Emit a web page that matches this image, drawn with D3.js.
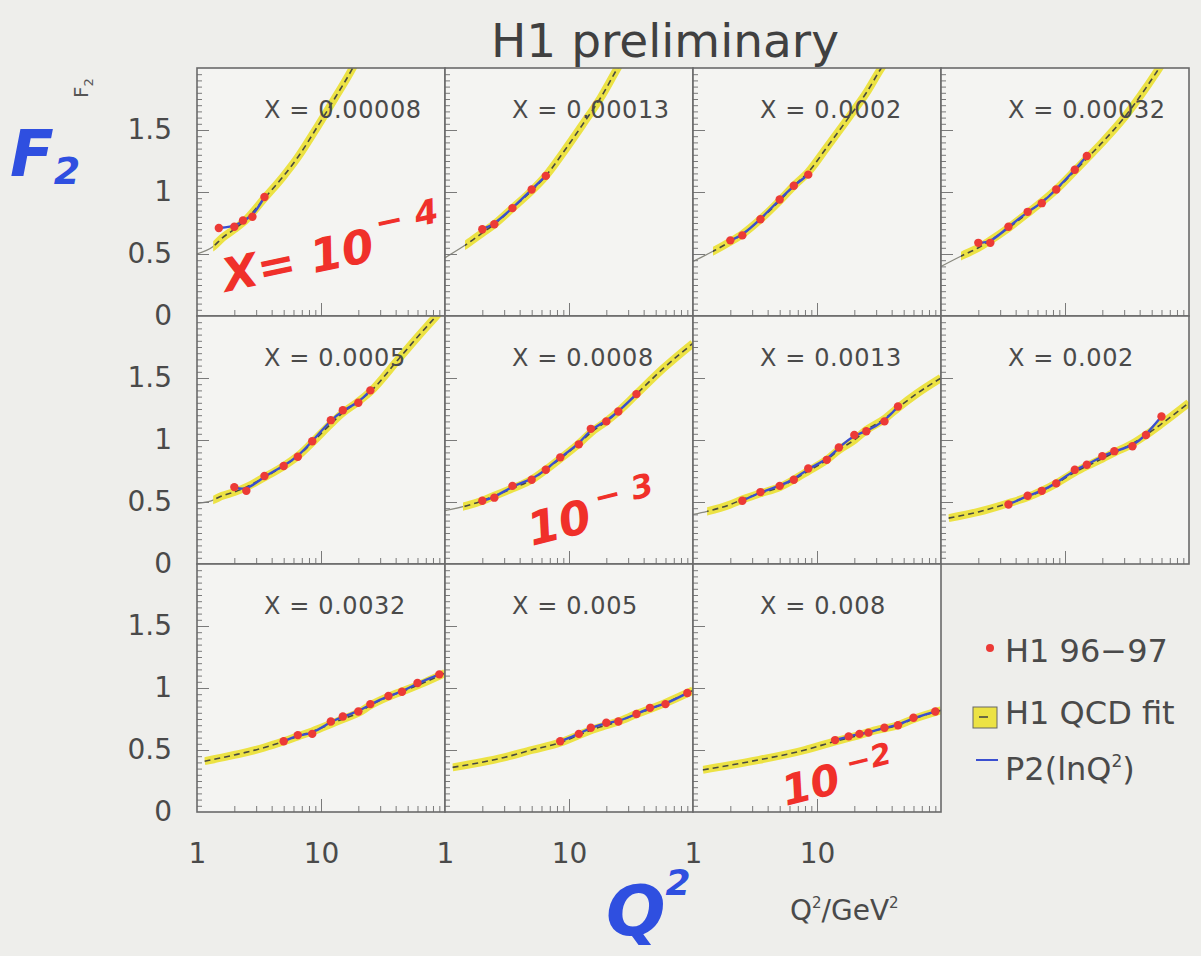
<!DOCTYPE html>
<html>
<head>
<meta charset="utf-8">
<script src="https://cdn.jsdelivr.net/npm/d3@7"></script>
<style>
  html, body { margin: 0; padding: 0; background: #eeeeeb; }
  svg { display: block; }
</style>
</head>
<body>
<svg id="chart" width="1201" height="956"></svg>
<script>
// ---- data ------------------------------------------------------------
const xBins = ["0.00008", "0.00013", "0.0002", "0.00032", "0.0005", "0.0008",
               "0.0013", "0.002", "0.0032", "0.005", "0.008"];

// H1 96-97 measurements per x bin, [Q2, F2]
const h1_00008 = [[1.5, 0.71], [2, 0.72], [2.35, 0.77], [2.8, 0.80], [3.5, 0.96]];
const h1_00013 = [[2, 0.70], [2.5, 0.74], [3.5, 0.87], [5, 1.02], [6.5, 1.13]];
const h1_0002  = [[2, 0.61], [2.5, 0.65], [3.5, 0.78], [5, 0.94], [6.5, 1.05], [8.5, 1.14]];
const h1_00032 = [[2, 0.59], [2.5, 0.59], [3.5, 0.72], [5, 0.84], [6.5, 0.91], [8.5, 1.02],
                  [12, 1.18], [15, 1.29]];
const h1_0005  = [[2, 0.62], [2.5, 0.59], [3.5, 0.71], [5, 0.79], [6.5, 0.865], [8.5, 0.99],
                  [12, 1.16], [15, 1.24], [20, 1.30], [25, 1.40]];
const h1_0008  = [[2, 0.51], [2.5, 0.535], [3.5, 0.63], [5, 0.68], [6.5, 0.76], [8.5, 0.86],
                  [12, 0.965], [15, 1.09], [20, 1.15], [25, 1.23], [35, 1.37]];
const h1_0013  = [[2.5, 0.51], [3.5, 0.58], [5, 0.63], [6.5, 0.68], [8.5, 0.77], [12, 0.84],
                  [15, 0.94], [20, 1.04], [25, 1.07], [35, 1.15], [45, 1.27]];
const h1_002   = [[3.5, 0.48], [5, 0.55], [6.5, 0.59], [8.5, 0.65], [12, 0.76], [15, 0.80],
                  [20, 0.87], [25, 0.91], [35, 0.95], [45, 1.04], [60, 1.19]];
const h1_0032  = [[5, 0.57], [6.5, 0.62], [8.5, 0.63], [12, 0.73], [15, 0.77], [20, 0.81],
                  [25, 0.87], [35, 0.935], [45, 0.97], [60, 1.04], [90, 1.11]];
const h1_005   = [[8.5, 0.57], [12, 0.63], [15, 0.68], [20, 0.72], [25, 0.73], [35, 0.79],
                  [45, 0.84], [60, 0.87], [90, 0.96]];
const h1_008   = [[14, 0.58], [18, 0.61], [22, 0.63], [26, 0.64], [35, 0.68], [45, 0.70],
                  [60, 0.76], [90, 0.81]];

// H1 QCD fit, central curve per x bin, [Q2, F2]
const qcd_00008 = [[1, 0.50], [1.35, 0.56], [1.6, 0.63], [2, 0.70], [2.5, 0.78], [3.5, 0.95],
                   [5, 1.13], [6.5, 1.28], [9.4, 1.53], [13, 1.76], [18, 2.0], [25, 2.3]];
const qcd_00013 = [[1, 0.47], [1.5, 0.58], [2, 0.67], [2.5, 0.74], [3.5, 0.87], [5, 1.01],
                   [6.5, 1.13], [9, 1.32], [13, 1.55], [18, 1.76], [24, 1.98], [30, 2.15]];
const qcd_0002  = [[1, 0.44], [1.5, 0.53], [2, 0.60], [2.5, 0.66], [3.5, 0.78], [5, 0.93],
                   [6.5, 1.05], [8.5, 1.16], [12, 1.36], [18, 1.60], [25, 1.80], [33, 2.0], [40, 2.12]];
const qcd_00032 = [[1, 0.40], [1.5, 0.49], [2, 0.55], [2.5, 0.61], [3.5, 0.71], [5, 0.83],
                   [6.5, 0.92], [8.5, 1.02], [12, 1.17], [15, 1.27], [20, 1.40], [30, 1.60],
                   [45, 1.84], [55, 1.97], [65, 2.08]];
const qcd_0005  = [[1, 0.49], [1.3, 0.51], [1.6, 0.55], [2, 0.58], [2.5, 0.62], [3.5, 0.70],
                   [5, 0.79], [6.5, 0.87], [8.5, 0.98], [12, 1.13], [15, 1.22], [20, 1.31],
                   [25, 1.39], [42, 1.65], [60, 1.83], [85, 2.0], [100, 2.08]];
const qcd_0008  = [[1, 0.43], [1.5, 0.47], [2, 0.51], [2.5, 0.55], [3.5, 0.61], [5, 0.68],
                   [6.5, 0.76], [8.5, 0.85], [12, 0.97], [15, 1.06], [20, 1.15], [25, 1.23],
                   [35, 1.37], [58, 1.58], [100, 1.78]];
const qcd_0013  = [[1, 0.40], [1.3, 0.425], [2, 0.48], [2.5, 0.52], [3.5, 0.57], [5, 0.62],
                   [6.5, 0.68], [8.5, 0.75], [12, 0.84], [15, 0.92], [20, 1.00], [25, 1.08],
                   [35, 1.17], [45, 1.26], [63, 1.37], [100, 1.50]];
const qcd_002   = [[1.15, 0.37], [2, 0.42], [3.5, 0.49], [5, 0.54], [6.5, 0.59], [8.5, 0.65],
                   [12, 0.74], [15, 0.79], [20, 0.85], [25, 0.90], [35, 0.97], [45, 1.04],
                   [60, 1.13], [100, 1.30]];
const qcd_0032  = [[1.15, 0.41], [2, 0.46], [3.5, 0.52], [5, 0.57], [6.5, 0.61], [8.5, 0.65],
                   [12, 0.71], [15, 0.75], [20, 0.80], [25, 0.86], [35, 0.93], [50, 0.99],
                   [70, 1.05], [100, 1.12]];
const qcd_005   = [[1.15, 0.36], [3, 0.44], [5, 0.50], [8.5, 0.56], [12, 0.62], [15, 0.66],
                   [20, 0.70], [25, 0.73], [35, 0.79], [45, 0.83], [60, 0.88], [100, 0.98]];
const qcd_008   = [[1.2, 0.34], [3, 0.41], [8, 0.50], [14, 0.57], [20, 0.61], [30, 0.66],
                   [45, 0.70], [60, 0.75], [100, 0.82]];

// Q2 at which the fit's uncertainty band starts
const bandFrom = [1.35, 1.45, 1.45, 1.45, 1.35, 1.4, 1.3, 1.15, 1.15, 1.15, 1.2];

const h1Data  = [h1_00008, h1_00013, h1_0002, h1_00032, h1_0005, h1_0008,
                 h1_0013, h1_002, h1_0032, h1_005, h1_008];
const qcdFits = [qcd_00008, qcd_00013, qcd_0002, qcd_00032, qcd_0005, qcd_0008,
                 qcd_0013, qcd_002, qcd_0032, qcd_005, qcd_008];

const yTickLabels = [0, 0.5, 1, 1.5];
const xTickLabels = [1, 10];
const legendItems = ["H1 96\u221297", "H1 QCD fit", "P2(lnQ\u00b2)"];

// ---- layout ----------------------------------------------------------
const gridLeft = 197, gridTop = 68, cellW = 248, cellH = 248, nCols = 4;
const FONT = "'DejaVu Sans', sans-serif";
const colors = {
  panel: "#f4f4f2", frame: "#6a6a6a", tick: "#7a7a7a", text: "#4a4a4a",
  band: "#ece244", dash: "#4a4a40", thin: "#8a8a80",
  p2: "#3a4fd0", point: "#ec3a36", ink: "#f0302a", pen: "#2f4fe0"
};

const svg = d3.select("#chart");

const x = d3.scaleLog().domain([1, 100]).range([0, cellW]);
const y = d3.scaleLinear().domain([0, 2]).range([cellH, 0]);

const fitLine = d3.line().x(d => x(d[0])).y(d => y(d[1])).curve(d3.curveMonotoneX);
const p2Line  = d3.line().x(d => x(d[0])).y(d => y(d[1])).curve(d3.curveBasis);

const minorY = d3.range(1, 40).map(i => i * 0.05).filter(v => Math.abs(v * 2 - Math.round(v * 2)) > 1e-6);
const majorY = [0.5, 1, 1.5];
const minorX = [2, 3, 4, 5, 6, 7, 8, 9, 20, 30, 40, 50, 60, 70, 80, 90];
const majorX = [10];

xBins.forEach((label, i) => {
  const row = Math.floor(i / nCols), col = i % nCols;
  const g = svg.append("g")
    .attr("transform", `translate(${gridLeft + col * cellW},${gridTop + row * cellH})`);

  g.append("rect").attr("width", cellW).attr("height", cellH).attr("fill", colors.panel);

  const clipId = `clip-${i}`, bandId = `band-${i}`;
  const defs = g.append("defs");
  defs.append("clipPath").attr("id", clipId)
    .append("rect").attr("width", cellW).attr("height", cellH);
  defs.append("clipPath").attr("id", bandId)
    .append("rect").attr("x", x(bandFrom[i])).attr("width", cellW).attr("height", cellH);

  const plot = g.append("g").attr("clip-path", `url(#${clipId})`);
  const fit = qcdFits[i];

  // fit extrapolation below the band
  plot.append("path").attr("d", fitLine(fit))
    .attr("fill", "none").attr("stroke", colors.thin).attr("stroke-width", 1.3);

  const banded = plot.append("g").attr("clip-path", `url(#${bandId})`);
  banded.append("path").attr("d", fitLine(fit))
    .attr("fill", "none").attr("stroke", colors.band).attr("stroke-width", 8)
    .attr("stroke-linecap", "butt");
  banded.append("path").attr("d", fitLine(fit))
    .attr("fill", "none").attr("stroke", colors.dash).attr("stroke-width", 1.6)
    .attr("stroke-dasharray", "6,4");

  // P2(lnQ2) fit over the measured range
  plot.append("path").attr("d", p2Line(h1Data[i]))
    .attr("fill", "none").attr("stroke", colors.p2).attr("stroke-width", 2.4);

  plot.selectAll("circle.pt").data(h1Data[i]).enter().append("circle")
    .attr("class", "pt")
    .attr("cx", d => x(d[0])).attr("cy", d => y(d[1])).attr("r", 4.2)
    .attr("fill", colors.point);

  // inward ticks on the left and bottom edges
  const addAxis = (axis, tr) => {
    const a = g.append("g").attr("transform", tr).call(axis);
    a.select(".domain").remove();
    a.selectAll("line").attr("stroke", colors.tick).attr("stroke-width", 1);
    a.selectAll("text").remove();
  };
  addAxis(d3.axisRight(y).tickValues(minorY).tickSize(5), "translate(0,0)");
  addAxis(d3.axisRight(y).tickValues(majorY).tickSize(12), "translate(0,0)");
  addAxis(d3.axisTop(x).tickValues(minorX).tickSize(6), `translate(0,${cellH})`);
  addAxis(d3.axisTop(x).tickValues(majorX).tickSize(13), `translate(0,${cellH})`);

  g.append("rect").attr("width", cellW).attr("height", cellH)
    .attr("fill", "none").attr("stroke", colors.frame).attr("stroke-width", 1.6);

  g.append("text").attr("x", 67).attr("y", 50)
    .attr("font-family", FONT).attr("font-size", 24).attr("letter-spacing", 0.6)
    .attr("fill", colors.text).text(`X = ${label}`);

  // value labels on the outer edges
  if (col === 0) {
    const ya = g.append("g").call(d3.axisLeft(y).tickValues(yTickLabels).tickSize(0).tickPadding(25)
      .tickFormat(d3.format("")));
    ya.select(".domain").remove();
    ya.selectAll("text").attr("font-family", FONT).attr("font-size", 28).attr("fill", colors.text);
  }
  if (row === 2) {
    const xa = g.append("g").attr("transform", `translate(0,${cellH})`)
      .call(d3.axisBottom(x).tickValues(xTickLabels).tickSize(0).tickPadding(31)
        .tickFormat(d3.format("")));
    xa.select(".domain").remove();
    xa.selectAll("text").attr("font-family", FONT).attr("font-size", 28).attr("fill", colors.text);
  }
});

// ---- title and axis titles -------------------------------------------
svg.append("text").attr("x", 665).attr("y", 57).attr("text-anchor", "middle")
  .attr("font-family", FONT).attr("font-size", 47).attr("fill", "#404040")
  .text("H1 preliminary");

const f2 = svg.append("text").attr("transform", "translate(88,98) rotate(-90)")
  .attr("font-family", FONT).attr("font-size", 20).attr("fill", "#555");
f2.append("tspan").text("F");
f2.append("tspan").attr("font-size", 13).attr("dy", 5).text("2");

const unit = svg.append("text").attr("x", 790).attr("y", 920)
  .attr("font-family", FONT).attr("font-size", 28).attr("fill", colors.text);
unit.append("tspan").text("Q");
unit.append("tspan").attr("font-size", 15).attr("dy", -12).text("2");
unit.append("tspan").attr("dy", 12).text("/GeV");
unit.append("tspan").attr("font-size", 15).attr("dy", -12).text("2");

// ---- legend ----------------------------------------------------------
const lg = svg.append("g");
lg.append("circle").attr("cx", 990).attr("cy", 648).attr("r", 4).attr("fill", colors.point);
lg.append("rect").attr("x", 973).attr("y", 707).attr("width", 24).attr("height", 21)
  .attr("fill", colors.band).attr("stroke", "#666").attr("stroke-width", 1);
lg.append("line").attr("x1", 979).attr("x2", 988).attr("y1", 717).attr("y2", 717)
  .attr("stroke", colors.dash).attr("stroke-width", 1.6);
lg.append("line").attr("x1", 976).attr("x2", 998).attr("y1", 760).attr("y2", 760)
  .attr("stroke", colors.p2).attr("stroke-width", 2);
lg.selectAll("text.leg").data(legendItems).enter().append("text")
  .attr("class", "leg").attr("x", 1005).attr("y", (d, k) => [662, 724, 780][k])
  .attr("font-family", FONT).attr("font-size", 32).attr("fill", colors.text)
  .each(function (d) {
    const t = d3.select(this);
    if (d.indexOf("\u00b2") >= 0) {
      const [a, b] = d.split("\u00b2");
      t.append("tspan").text(a);
      t.append("tspan").attr("font-size", 17).attr("dy", -13).text("2");
      t.append("tspan").attr("dy", 13).text(b);
    } else {
      t.text(d);
    }
  });

// ---- hand-written annotations ----------------------------------------
const hand = (sel) => sel.attr("font-family", FONT).attr("font-style", "italic")
  .attr("font-weight", "bold");

const a4 = svg.append("text").attr("transform", "translate(226,292) rotate(-12)")
  .call(hand).attr("font-size", 46).attr("fill", colors.ink);
a4.append("tspan").text("X= 10");
a4.append("tspan").attr("font-size", 34).attr("dx", 6).attr("dy", -24).text("\u2212 4");

const a3 = svg.append("text").attr("transform", "translate(532,546) rotate(-14)")
  .call(hand).attr("font-size", 46).attr("fill", colors.ink);
a3.append("tspan").text("10");
a3.append("tspan").attr("font-size", 32).attr("dx", 8).attr("dy", -20).text("\u2212 3");

const a2 = svg.append("text").attr("transform", "translate(786,806) rotate(-14)")
  .call(hand).attr("font-size", 42).attr("fill", colors.ink);
a2.append("tspan").text("10");
a2.append("tspan").attr("font-size", 30).attr("dx", 10).attr("dy", -16).text("\u22122");

const pf = svg.append("text").attr("x", 10).attr("y", 176)
  .call(hand).attr("font-size", 64).attr("fill", colors.pen);
pf.append("tspan").text("F");
pf.append("tspan").attr("font-size", 38).attr("dy", 8).text("2");

const pq = svg.append("text").attr("x", 606).attr("y", 935)
  .call(hand).attr("font-size", 70).attr("fill", colors.pen);
pq.append("tspan").text("Q");
pq.append("tspan").attr("font-size", 36).attr("dy", -40).text("2");
</script>
</body>
</html>
